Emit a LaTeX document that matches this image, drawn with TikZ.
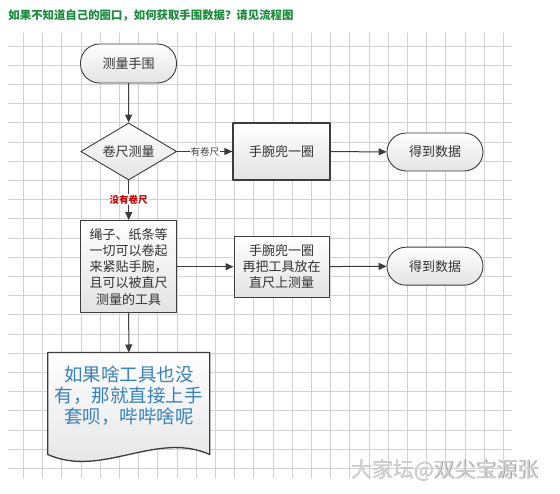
\documentclass[tikz,border=0pt]{standalone}
\usepackage{fontspec}
\setmainfont{Noto Sans CJK SC}
\usetikzlibrary{shapes.geometric,arrows.meta}
\definecolor{titlegreen}{RGB}{25,140,60}
\definecolor{docblue}{RGB}{55,130,190}
\definecolor{edgegray}{RGB}{60,60,60}
\definecolor{gridgray}{RGB}{210,210,210}

\begin{document}
\begin{tikzpicture}[x=1pt,y=-1pt,line width=1pt,line cap=round,line join=round,
  box/.style={draw=edgegray,line width=1.3pt,top color=white,bottom color=gray!22,
    text=black!80,font=\fontsize{13}{16.3}\selectfont,align=center,inner sep=0pt},
  term/.style={box,line width=0.9pt,rounded corners=19pt,minimum width=96pt,minimum height=38pt},
  decide/.style={box,line width=0.9pt,shape=diamond,aspect=1.68,minimum width=96pt,minimum height=57pt},
  arr/.style={draw=edgegray,line width=1pt,-{Triangle[length=8pt,width=7pt]}},
  lbl/.style={fill=white,inner sep=1pt,font=\fontsize{9.5}{11}\selectfont}]
\useasboundingbox (0,0) rectangle (560,494);
\fill[white] (0,0) rectangle (560,494);
% grid
\foreach \i in {1,...,26}
  \draw[gridgray,line width=0.6pt] (4+19.2*\i,33) -- (4+19.2*\i,478);
\foreach \j in {0,...,22}
  \draw[gridgray,line width=0.6pt] (8,46+19.2*\j) -- (512,46+19.2*\j);

\node[anchor=west,text=titlegreen,font=\fontsize{11.4}{13}\selectfont\bfseries,inner sep=0pt]
  (title) at (8,15) {如果不知道自己的圈口，如何获取手围数据？请见流程图};

\node[term,minimum height=39pt] (start) at (128.5,63.5) {测量手围};
\node[decide] (tape) at (128.7,151.5) {卷尺测量};
\node[box,minimum width=97pt,minimum height=57pt] (wrapA) at (281.5,151.5) {手腕兜一圈};
\node[term] (dataA) at (435,152) {得到数据};
\node[box,minimum width=96pt,minimum height=92pt] (tool) at (128.7,266.7)
  {绳子、纸条等\\一切可以卷起\\来紧贴手腕，\\且可以被直尺\\测量的工具};
\node[box,minimum width=95pt,minimum height=61pt] (wrapB) at (281.7,266.7)
  {手腕兜一圈\\再把工具放在\\直尺上测量};
\node[term] (dataB) at (435,266.2) {得到数据};

% document shape
\node[minimum width=161pt,minimum height=86pt,inner sep=0pt] (doc) at (128.8,396) {};
\shade[top color=white,bottom color=gray!22,draw=edgegray,line width=1.3pt]
  (doc.north west) -- (doc.north east) -- ([yshift=-15pt]doc.south east)
  .. controls +(-54,-24) and +(54,24) .. ([yshift=-15pt]doc.south west) -- cycle;
\node[text=docblue,align=center,font=\fontsize{18.5}{21}\selectfont] (doctxt) at (doc)
  {如果啥工具也没\\有，那就直接上手\\套呗，哔哔啥呢};

\draw[arr] (start) -- (tape);
\draw[arr] (tape) -- node[lbl,text=black!75] (yes) {有卷尺} (wrapA);
\draw[arr] (wrapA) -- (dataA);
\draw[arr] (tape) -- node[lbl,text=red!80!black,font=\fontsize{9.5}{11}\selectfont\bfseries,pos=0.48] (no) {没有卷尺} (tool);
\draw[arr] (tool) -- (wrapB);
\draw[arr] (wrapB) -- (dataB);
\draw[arr] (tool) -- (doc);

% watermark
\node[text=gray!75,font=\fontsize{21}{24}\selectfont] (markshadow) at (445.7,470.7) {大家坛@双尖宝源张};
\node[text=gray!35,font=\fontsize{21}{24}\selectfont] (mark) at (445,470) {大家坛@双尖宝源张};
\end{tikzpicture}
\end{document}
